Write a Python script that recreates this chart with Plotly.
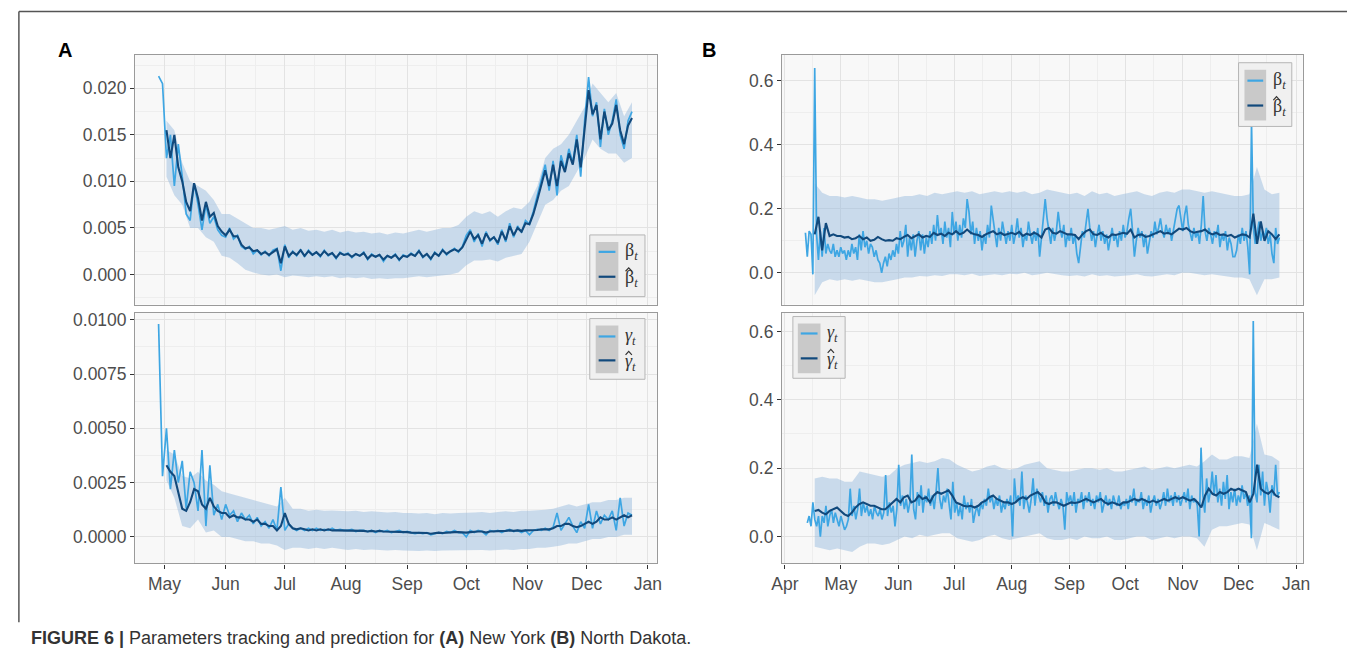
import pandas as pd
import plotly.graph_objects as go

# ---------------- (A) New York ----------------
# transmission rate beta_t (observed, every 2 days from Apr 28)
ny_beta_obs = [
    0.0213, 0.0205,
    0.0125, 0.0150, 0.0095, 0.0140, 0.0105, 0.0065, 0.0058, 0.0098, 0.0075, 0.0048, 0.0075, 0.0055, 0.0062, 0.0048, 0.0042,
    0.0040, 0.0050, 0.0038, 0.0042, 0.0030, 0.0027, 0.0030, 0.0022, 0.0026, 0.0021, 0.0025, 0.0020, 0.0026, 0.0028, 0.0004,
    0.0032, 0.0018, 0.0025, 0.0020, 0.0027, 0.0019, 0.0026, 0.0021, 0.0024, 0.0019, 0.0026, 0.0020, 0.0023, 0.0017, 0.0024, 0.0021,
    0.0023, 0.0018, 0.0022, 0.0020, 0.0024, 0.0016, 0.0022, 0.0019, 0.0021, 0.0014, 0.0020, 0.0018, 0.0022, 0.0015, 0.0021,
    0.0019, 0.0023, 0.0020, 0.0026, 0.0018, 0.0022, 0.0016, 0.0024, 0.0020, 0.0027, 0.0021, 0.0025, 0.0028, 0.0024, 0.0030,
    0.0042, 0.0048, 0.0035, 0.0044, 0.0030, 0.0046, 0.0036, 0.0040, 0.0032, 0.0048, 0.0035, 0.0055, 0.0040, 0.0052, 0.0045, 0.0058,
    0.0054, 0.0068, 0.0085, 0.0100, 0.0118, 0.0090, 0.0122, 0.0085, 0.0128, 0.0112, 0.0135, 0.0120, 0.0150, 0.0105, 0.0165,
    0.0212, 0.0170, 0.0185, 0.0137, 0.0178, 0.0150, 0.0165, 0.0188, 0.0150, 0.0135, 0.0165, 0.0175,
]
# one-step prediction beta_hat_t (every 2 days from May 2)
ny_beta_fit = [
    0.0155, 0.0125, 0.0150, 0.0115, 0.0100, 0.0078, 0.0068, 0.0098, 0.0082, 0.0058, 0.0078, 0.0062, 0.0066, 0.0052, 0.0046,
    0.0042, 0.0048, 0.0041, 0.0041, 0.0032, 0.0028, 0.0029, 0.0025, 0.0026, 0.0022, 0.0024, 0.0021, 0.0024, 0.0027, 0.0012,
    0.0030, 0.0020, 0.0024, 0.0021, 0.0026, 0.0020, 0.0025, 0.0021, 0.0024, 0.0020, 0.0025, 0.0021, 0.0023, 0.0018, 0.0023, 0.0021,
    0.0022, 0.0019, 0.0022, 0.0020, 0.0023, 0.0017, 0.0021, 0.0019, 0.0021, 0.0016, 0.0020, 0.0018, 0.0021, 0.0016, 0.0020,
    0.0019, 0.0022, 0.0020, 0.0025, 0.0019, 0.0022, 0.0017, 0.0023, 0.0020, 0.0026, 0.0022, 0.0025, 0.0027, 0.0025, 0.0029,
    0.0038, 0.0046, 0.0038, 0.0042, 0.0033, 0.0044, 0.0037, 0.0040, 0.0034, 0.0046, 0.0037, 0.0052, 0.0042, 0.0050, 0.0046, 0.0055,
    0.0054, 0.0065, 0.0080, 0.0095, 0.0112, 0.0095, 0.0118, 0.0095, 0.0122, 0.0110, 0.0130, 0.0118, 0.0145, 0.0115, 0.0160,
    0.0198, 0.0172, 0.0182, 0.0145, 0.0175, 0.0155, 0.0162, 0.0182, 0.0155, 0.0140, 0.0160, 0.0168,
]
# prediction band (every 4 days from May 2)
ny_beta_lo = [
    0.0105, 0.0085, 0.0075, 0.0050, 0.0050, 0.0040, 0.0035, 0.0020,
    0.0018, 0.0012, 0.0005, 0.0002, 0.0000, -0.0001, 0.0000,
    -0.0003, -0.0001, -0.0002, -0.0003, -0.0002, -0.0003, -0.0002, -0.0004,
    -0.0003, -0.0004, -0.0003, -0.0005, -0.0004, -0.0005, -0.0004, -0.0004,
    -0.0003, -0.0002, -0.0003, -0.0002, -0.0001, 0.0000, 0.0002,
    0.0010, 0.0015, 0.0015, 0.0016, 0.0014, 0.0018, 0.0020, 0.0022,
    0.0035, 0.0055, 0.0075, 0.0080, 0.0090, 0.0095, 0.0110, 0.0125,
    0.0145, 0.0135, 0.0130, 0.0130, 0.0120, 0.0125,
]
ny_beta_hi = [
    0.0165, 0.0155, 0.0120, 0.0100, 0.0095, 0.0090, 0.0080, 0.0065,
    0.0065, 0.0060, 0.0055, 0.0050, 0.0050, 0.0048, 0.0050,
    0.0052, 0.0048, 0.0050, 0.0047, 0.0048, 0.0046, 0.0048, 0.0045,
    0.0047, 0.0045, 0.0046, 0.0044, 0.0045, 0.0043, 0.0045, 0.0044,
    0.0046, 0.0048, 0.0046, 0.0048, 0.0050, 0.0050, 0.0053,
    0.0062, 0.0068, 0.0065, 0.0068, 0.0062, 0.0068, 0.0072, 0.0070,
    0.0078, 0.0095, 0.0125, 0.0135, 0.0140, 0.0150, 0.0165, 0.0180,
    0.0205, 0.0195, 0.0185, 0.0195, 0.0170, 0.0185,
]

# removal rate gamma_t (observed, every 2 days from Apr 28)
ny_gamma_obs = [
    0.0098, 0.0028,
    0.0050, 0.0022, 0.0040, 0.0025, 0.0035, 0.0013, 0.0030, 0.0025, 0.0012, 0.0040, 0.0005, 0.0033, 0.0010, 0.0015, 0.0008,
    0.0015, 0.0010, 0.0012, 0.0007, 0.0011, 0.0008, 0.0010, 0.0006, 0.0009, 0.0005, 0.0007, 0.0004, 0.0008, 0.0003, 0.0023,
    0.0003, 0.0006, 0.0004, 0.0003, 0.0004, 0.0003, 0.0004, 0.0003, 0.0004, 0.0003, 0.00035, 0.0003, 0.0004, 0.0003, 0.00035, 0.0003,
    0.0003, 0.00035, 0.00025, 0.0003, 0.0003, 0.00025, 0.0003, 0.0002, 0.0003, 0.00025, 0.0003, 0.0002, 0.00025, 0.0003, 0.0002,
    0.00025, 0.0002, 0.00015, 0.0002, 0.00015, 0.0002, 0.0001, 0.00015, 0.0002, 0.00015, 0.00025, 0.0002, 0.0003, 0.0002, 0.0002,
    0.0000, 0.0003, 0.0002, 0.0003, 0.00025, 0.0001, 0.0003, 0.00025, 0.0003, 0.0002, 0.0003, 0.00035, 0.00025, 0.0003, 0.0002, 0.0003,
    0.0001, 0.0003, 0.00035, 0.0003, 0.0004, 0.0003, 0.00045, 0.0011, 0.0003, 0.0006, 0.0009, 0.0005, 0.0002, 0.0007, 0.0004,
    0.0015, 0.0004, 0.0012, 0.0006, 0.0010, 0.0008, 0.0012, 0.0003, 0.0018, 0.0005, 0.0011, 0.0010,
]
ny_gamma_fit = [
    0.0033, 0.0030, 0.0028, 0.0020, 0.0013, 0.0012, 0.0016, 0.0022, 0.0021, 0.0015, 0.0013, 0.0018, 0.0014, 0.0012, 0.0011,
    0.0011, 0.0009, 0.0010, 0.0009, 0.0009, 0.0008, 0.0008, 0.0007, 0.0008, 0.0006, 0.0006, 0.0005, 0.0005, 0.0003, 0.0005,
    0.0011, 0.0006, 0.0004, 0.00035, 0.0004, 0.00035, 0.0003, 0.00035, 0.0003, 0.00035, 0.0003, 0.00035, 0.0003, 0.0003, 0.0003, 0.0003,
    0.0003, 0.0003, 0.00028, 0.0003, 0.00028, 0.00025, 0.00028, 0.00025, 0.00028, 0.00025, 0.00025, 0.00022, 0.00025, 0.00025, 0.00022,
    0.00022, 0.0002, 0.0002, 0.00018, 0.0002, 0.00018, 0.00015, 0.00018, 0.0002, 0.00018, 0.0002, 0.0002, 0.00022, 0.00022, 0.0002,
    0.0002, 0.00022, 0.00025, 0.00025, 0.00025, 0.0002, 0.00025, 0.00025, 0.00028, 0.00025, 0.00028, 0.0003, 0.00028, 0.0003, 0.00028, 0.0003,
    0.0003, 0.0003, 0.00032, 0.00035, 0.00035, 0.00035, 0.0004, 0.0005, 0.0005, 0.0006, 0.0006, 0.0005, 0.00045, 0.0005, 0.0006,
    0.0007, 0.0006, 0.0007, 0.0009, 0.0008, 0.0008, 0.0009, 0.0008, 0.0009, 0.0010, 0.0009, 0.0010,
]
ny_gamma_lo = [
    0.0026, 0.0018, 0.0005, 0.0004, 0.0008, 0.0002, 0.0003, 0.0000,
    0.0000, -0.0001, -0.0002, -0.0002, -0.0003, -0.0003, -0.0004,
    -0.0006, -0.0005, -0.0005, -0.00055, -0.0005, -0.00055, -0.0005, -0.00055,
    -0.0006, -0.00055, -0.0006, -0.00058, -0.0006, -0.00062, -0.0006, -0.00062,
    -0.00062, -0.00065, -0.00062, -0.00065, -0.00062, -0.0006, -0.00062,
    -0.00062, -0.0006, -0.0006, -0.00062, -0.0006, -0.00058, -0.0006, -0.00055,
    -0.00055, -0.0005, -0.0005, -0.00045, -0.0004, -0.0003, -0.0003, -0.0002,
    -0.0001, -0.0001, 0.0000, 0.0000, 0.0001, 0.0001,
]
ny_gamma_hi = [
    0.0040, 0.0038, 0.0028, 0.0027, 0.0030, 0.0026, 0.0024, 0.0021,
    0.0020, 0.0019, 0.0018, 0.0017, 0.0016, 0.0015, 0.0014,
    0.0018, 0.0013, 0.0013, 0.0012, 0.00125, 0.0012, 0.00122, 0.0012,
    0.00118, 0.0012, 0.00115, 0.00118, 0.00115, 0.00112, 0.00115, 0.0011,
    0.0011, 0.00108, 0.0011, 0.00105, 0.0011, 0.00108, 0.0011,
    0.0011, 0.00112, 0.00115, 0.0011, 0.00115, 0.00118, 0.00115, 0.0012,
    0.0012, 0.00122, 0.00125, 0.0013, 0.0014, 0.0015, 0.0014, 0.0015,
    0.0016, 0.0016, 0.0017, 0.0017, 0.0018, 0.0018,
]

# ---------------- (B) North Dakota ----------------
# beta_t observed, daily from Apr 12
nd_beta_obs = [
    0.125, 0.05, 0.13, 0.12, -0.005, 0.64, 0.12, 0.04, 0.13, 0.05, 0.14, 0.06, 0.09, 0.07, 0.06, 0.09, 0.05, 0.07, 0.05,
    0.08, 0.06, 0.07, 0.04, 0.07, 0.05, 0.09, 0.06, 0.08, 0.04, 0.12, 0.07, 0.13, 0.08, 0.10, 0.06, 0.09, 0.08, 0.05, 0.07,
    0.04, 0.03, 0.00, 0.03, 0.05, 0.02, 0.06, 0.04, 0.07, 0.05, 0.09,
    0.06, 0.13, 0.08, 0.10, 0.15, 0.05, 0.11, 0.07, 0.12, 0.05, 0.10, 0.13, 0.07, 0.12, 0.06, 0.11, 0.08, 0.13, 0.09, 0.15,
    0.10, 0.18, 0.12, 0.14, 0.09, 0.16, 0.11, 0.14, 0.08, 0.19,
    0.12, 0.16, 0.10, 0.15, 0.11, 0.17, 0.14, 0.23, 0.19, 0.12, 0.16, 0.09, 0.14, 0.10, 0.13, 0.07, 0.12, 0.09, 0.15, 0.11,
    0.21, 0.16, 0.12, 0.08, 0.14, 0.10, 0.16, 0.12, 0.09, 0.13, 0.10,
    0.15, 0.09, 0.12, 0.17, 0.11, 0.14, 0.08, 0.12, 0.10, 0.16, 0.12, 0.09, 0.13, 0.10, 0.14, 0.05, 0.11, 0.16, 0.23, 0.17,
    0.12, 0.09, 0.14, 0.10, 0.13, 0.19, 0.14, 0.11, 0.15, 0.08, 0.12,
    0.10, 0.14, 0.09, 0.12, 0.06, 0.03, 0.09, 0.13, 0.11, 0.16, 0.20, 0.14, 0.10, 0.13, 0.08, 0.12, 0.15, 0.10, 0.13, 0.09,
    0.12, 0.07, 0.11, 0.14, 0.10, 0.12, 0.08, 0.13, 0.10, 0.15,
    0.11, 0.13, 0.17, 0.20, 0.13, 0.05, 0.10, 0.14, 0.11, 0.13, 0.08, 0.12, 0.06, 0.10, 0.13, 0.11, 0.16, 0.12, 0.14, 0.17,
    0.13, 0.11, 0.15, 0.12, 0.14, 0.10, 0.13, 0.16, 0.20, 0.21, 0.16,
    0.13, 0.18, 0.21, 0.15, 0.12, 0.10, 0.14, 0.11, 0.13, 0.09, 0.15, 0.24, 0.13, 0.10, 0.14, 0.12, 0.09, 0.13, 0.11, 0.15,
    0.08, 0.12, 0.10, 0.13, 0.07, 0.11, 0.09, 0.05, 0.05, 0.07,
    0.12, 0.09, 0.14, 0.10, 0.13, 0.08, -0.005, 0.47, 0.14, 0.09, 0.12, 0.16, 0.10, 0.13, 0.11, 0.14, 0.09, 0.12, 0.06,
    0.03, 0.14, 0.09, 0.11,
]
# beta_hat_t, every 2 days from Apr 17
nd_beta_fit = [
    0.12, 0.175, 0.07, 0.155, 0.115, 0.12, 0.115,
    0.115, 0.11, 0.112, 0.105, 0.108, 0.115, 0.105, 0.110, 0.100, 0.103, 0.112, 0.105, 0.100, 0.102, 0.100, 0.108,
    0.105, 0.112, 0.118, 0.108, 0.115, 0.120, 0.110, 0.115, 0.112, 0.125, 0.118, 0.122, 0.115, 0.125, 0.12,
    0.13, 0.12, 0.125, 0.135, 0.125, 0.12, 0.118, 0.112, 0.12, 0.125, 0.13, 0.12, 0.125, 0.118, 0.122,
    0.125, 0.12, 0.128, 0.115, 0.122, 0.118, 0.125, 0.12, 0.11, 0.135, 0.14, 0.125, 0.122, 0.13, 0.125, 0.12,
    0.12, 0.118, 0.105, 0.12, 0.13, 0.135, 0.12, 0.118, 0.125, 0.115, 0.11, 0.12, 0.118, 0.122, 0.125,
    0.122, 0.135, 0.11, 0.118, 0.12, 0.112, 0.115, 0.12, 0.125, 0.13, 0.122, 0.125, 0.12, 0.13, 0.138,
    0.135, 0.14, 0.13, 0.125, 0.128, 0.13, 0.135, 0.125, 0.12, 0.125, 0.118, 0.12, 0.115, 0.118, 0.11,
    0.115, 0.12, 0.118, 0.11, 0.185, 0.09, 0.16, 0.10, 0.13, 0.12, 0.105, 0.12,
]
# band, every 4 days from Apr 17
nd_beta_lo = [
    -0.07, -0.03, -0.02, -0.025,
    -0.02, -0.025, -0.02, -0.025, -0.03, -0.03, -0.025, -0.02,
    -0.015, -0.015, -0.01, -0.012, -0.008, -0.01, -0.005,
    -0.005, -0.008, -0.003, -0.01, -0.008, -0.005, -0.008, -0.003,
    -0.005, 0.0, -0.008, -0.005, 0.0, -0.003, -0.008, -0.01,
    -0.008, -0.012, -0.005, -0.01, -0.008, -0.012, -0.01,
    -0.008, -0.005, -0.01, -0.012, -0.008, -0.005, -0.008, 0.0,
    0.0, -0.005, -0.008, -0.005, -0.01, -0.012, -0.015,
    -0.015, -0.02, -0.07, -0.02, -0.02, -0.015,
]
nd_beta_hi = [
    0.28, 0.25, 0.24, 0.24,
    0.235, 0.24, 0.235, 0.23, 0.23, 0.225, 0.23, 0.235,
    0.24, 0.24, 0.245, 0.24, 0.25, 0.245, 0.25,
    0.255, 0.25, 0.255, 0.245, 0.25, 0.255, 0.25, 0.255,
    0.25, 0.255, 0.245, 0.25, 0.26, 0.255, 0.25, 0.245,
    0.25, 0.24, 0.255, 0.245, 0.25, 0.24, 0.245,
    0.25, 0.255, 0.245, 0.24, 0.25, 0.255, 0.25, 0.26,
    0.26, 0.255, 0.25, 0.255, 0.25, 0.245, 0.24,
    0.24, 0.245, 0.33, 0.26, 0.245, 0.25,
]

# gamma_t observed, daily from Apr 13
nd_gamma_obs = [
    0.04, 0.06, 0.03, 0.10, 0.05, 0.03, 0.06, 0.00, 0.06, 0.04, 0.09, 0.03, 0.06, 0.08, 0.04, 0.07, 0.05, 0.03,
    0.06, 0.04, 0.02, 0.03, 0.05, 0.14, 0.06, 0.09, 0.05, 0.08, 0.14, 0.06, 0.10, 0.07, 0.09, 0.06, 0.08, 0.05,
    0.09, 0.07, 0.06, 0.08, 0.05, 0.07, 0.18, 0.06, 0.10, 0.07, 0.09, 0.03, 0.08,
    0.21, 0.09, 0.12, 0.08, 0.11, 0.07, 0.10, 0.24, 0.08, 0.05, 0.13, 0.09, 0.15, 0.07, 0.12, 0.10, 0.14, 0.09,
    0.12, 0.08, 0.13, 0.20, 0.11, 0.08, 0.12, 0.10, 0.14, 0.09, 0.05, 0.16,
    0.07, 0.10, 0.06, 0.09, 0.05, 0.12, 0.08, 0.10, 0.07, 0.11, 0.04, 0.07, 0.09, 0.06, 0.10, 0.08, 0.11, 0.09,
    0.14, 0.10, 0.12, 0.08, 0.11, 0.09, 0.12, 0.07, 0.10, 0.08, 0.11, 0.09, 0.12,
    0.00, 0.17, 0.10, 0.12, 0.09, 0.19, 0.08, 0.12, 0.10, 0.07, 0.11, 0.17, 0.09, 0.14, 0.12, 0.10, 0.13, 0.09,
    0.12, 0.07, 0.11, 0.12, 0.09, 0.13, 0.10, 0.08, 0.11, 0.09, 0.02, 0.13, 0.10,
    0.12, 0.09, 0.13, 0.07, 0.11, 0.10, 0.13, 0.08, 0.12, 0.10, 0.13, 0.09, 0.11, 0.08, 0.12, 0.10, 0.13, 0.07,
    0.10, 0.12, 0.09, 0.11, 0.08, 0.12, 0.10, 0.09, 0.12, 0.08, 0.10, 0.09,
    0.11, 0.08, 0.12, 0.10, 0.14, 0.09, 0.11, 0.10, 0.13, 0.08, 0.11, 0.09, 0.12, 0.07, 0.10, 0.12, 0.09, 0.11,
    0.08, 0.10, 0.13, 0.09, 0.14, 0.10, 0.12, 0.09, 0.13, 0.10, 0.12, 0.09, 0.11,
    0.13, 0.10, 0.14, 0.08, 0.12, 0.10, 0.11, 0.09, 0.00, 0.26, 0.12, 0.07, 0.17, 0.10, 0.13, 0.19, 0.12, 0.18,
    0.10, 0.14, 0.09, 0.16, 0.11, 0.18, 0.08, 0.13, 0.10, 0.14, 0.09, 0.12,
    0.10, 0.15, 0.11, 0.13, 0.09, 0.12, -0.005, 0.63, 0.13, 0.10, 0.21, 0.12, 0.19, 0.09, 0.16, 0.13, 0.07, 0.15,
    0.12, 0.21, 0.12, 0.13,
]
# gamma_hat_t, every 2 days from Apr 17
nd_gamma_fit = [
    0.075, 0.078, 0.07, 0.065, 0.075, 0.08, 0.085,
    0.075, 0.065, 0.06, 0.07, 0.085, 0.095, 0.10, 0.095, 0.09, 0.09, 0.085, 0.08, 0.08, 0.09, 0.10, 0.11,
    0.10, 0.115, 0.12, 0.10, 0.105, 0.12, 0.11, 0.115, 0.10, 0.12, 0.13, 0.125, 0.13, 0.135, 0.12,
    0.10, 0.095, 0.09, 0.088, 0.09, 0.085, 0.09, 0.10, 0.105, 0.115, 0.12, 0.11, 0.105, 0.10, 0.10,
    0.095, 0.10, 0.11, 0.115, 0.11, 0.12, 0.125, 0.13, 0.12, 0.10, 0.095, 0.10, 0.10, 0.095, 0.09, 0.095,
    0.10, 0.098, 0.10, 0.105, 0.11, 0.105, 0.10, 0.105, 0.11, 0.10, 0.095, 0.10, 0.095, 0.092, 0.10,
    0.10, 0.105, 0.11, 0.105, 0.11, 0.105, 0.10, 0.105, 0.10, 0.105, 0.11, 0.105, 0.11, 0.115, 0.11,
    0.115, 0.11, 0.105, 0.11, 0.10, 0.085, 0.12, 0.14, 0.125, 0.12, 0.13, 0.125, 0.13, 0.14, 0.135,
    0.14, 0.135, 0.13, 0.10, 0.125, 0.21, 0.14, 0.13, 0.125, 0.135, 0.12, 0.115,
]
nd_gamma_lo = [
    -0.03, -0.035, -0.04, -0.035,
    -0.04, -0.045, -0.03, -0.02, -0.02, -0.025, -0.02, -0.01,
    0.0, -0.005, 0.005, 0.0, 0.005, 0.01, 0.01,
    -0.005, -0.01, -0.015, -0.01, 0.0, 0.005, -0.005, -0.01,
    -0.005, 0.0, 0.005, 0.01, -0.005, -0.01, -0.01, -0.005,
    -0.01, 0.0, -0.005, -0.005, 0.0, -0.01, -0.01,
    -0.005, 0.0, 0.0, -0.01, -0.005, 0.0, -0.005, 0.0,
    0.0, -0.005, -0.03, 0.02, 0.03, 0.03, 0.035,
    0.04, 0.035, -0.04, 0.04, 0.03, 0.02,
]
nd_gamma_hi = [
    0.17, 0.175, 0.17, 0.17,
    0.16, 0.16, 0.19, 0.185, 0.18, 0.175, 0.18, 0.20,
    0.21, 0.215, 0.22, 0.215, 0.22, 0.23, 0.225,
    0.21, 0.20, 0.19, 0.195, 0.205, 0.21, 0.20, 0.195,
    0.20, 0.21, 0.215, 0.22, 0.20, 0.195, 0.19, 0.19,
    0.195, 0.20, 0.20, 0.195, 0.20, 0.19, 0.19,
    0.195, 0.20, 0.205, 0.195, 0.20, 0.205, 0.20, 0.205,
    0.21, 0.205, 0.22, 0.24, 0.225, 0.225, 0.235,
    0.235, 0.23, 0.33, 0.24, 0.235, 0.22,
]

# date spans of each series
NY_OBS_SPAN = ("2020-04-28", "2020-12-24")
NY_FIT_SPAN = ("2020-05-02", "2020-12-24")
ND_BETA_OBS_SPAN = ("2020-04-12", "2020-12-23")
ND_GAMMA_OBS_SPAN = ("2020-04-13", "2020-12-23")
ND_FIT_SPAN = ("2020-04-17", "2020-12-23")

LIGHT = "#3ea6e3"
DARK = "#11497c"
BAND = "rgba(150,186,222,0.48)"

W, H = 1355, 658


def dates(span, n):
    return pd.date_range(span[0], span[1], periods=n)


def px(x):
    return x / W


def py(y):
    return 1 - y / H


fig = go.Figure()


def add_panel(k, obs, obs_span, fit, fit_span, lo, hi):
    xa, ya = ("x", "y") if k == 1 else (f"x{k}", f"y{k}")
    band_x = list(dates(fit_span, len(hi))) + list(dates(fit_span, len(lo)))[::-1]
    band_y = list(hi) + list(lo)[::-1]
    fig.add_trace(go.Scatter(x=band_x, y=band_y, fill="toself", fillcolor=BAND,
                             line=dict(width=0), mode="lines", hoverinfo="skip",
                             showlegend=False, xaxis=xa, yaxis=ya))
    fig.add_trace(go.Scatter(x=dates(obs_span, len(obs)), y=obs, mode="lines",
                             line=dict(color=LIGHT, width=1.7), showlegend=False,
                             xaxis=xa, yaxis=ya))
    fig.add_trace(go.Scatter(x=dates(fit_span, len(fit)), y=fit, mode="lines",
                             line=dict(color=DARK, width=2.1), showlegend=False,
                             xaxis=xa, yaxis=ya))


add_panel(1, ny_beta_obs, NY_OBS_SPAN, ny_beta_fit, NY_FIT_SPAN, ny_beta_lo, ny_beta_hi)
add_panel(2, ny_gamma_obs, NY_OBS_SPAN, ny_gamma_fit, NY_FIT_SPAN, ny_gamma_lo, ny_gamma_hi)
add_panel(3, nd_beta_obs, ND_BETA_OBS_SPAN, nd_beta_fit, ND_FIT_SPAN, nd_beta_lo, nd_beta_hi)
add_panel(4, nd_gamma_obs, ND_GAMMA_OBS_SPAN, nd_gamma_fit, ND_FIT_SPAN, nd_gamma_lo, nd_gamma_hi)

TICK_FONT = dict(family="Liberation Sans, Arial, sans-serif", size=17.5, color="#4d4d4d")
GRID = "#e3e3e3"
MINOR_GRID = "#eeeeee"
FRAME = "#9a9a9a"


def xaxis(domain, rng, anchor, labels):
    return dict(domain=domain, range=rng, anchor=anchor, type="date",
                dtick="M1", tick0="2020-01-01", tickformat="%b",
                showticklabels=labels, ticks="outside" if labels else "",
                ticklen=4, tickcolor="#333333", tickfont=TICK_FONT,
                showgrid=True, gridcolor=GRID, gridwidth=1,
                minor=dict(dtick="M1", tick0="2020-01-16", showgrid=True,
                           gridcolor=MINOR_GRID, gridwidth=0.6, ticks=""),
                showline=True, linecolor=FRAME, linewidth=1.3, mirror=True,
                zeroline=False)


def yaxis(domain, rng, anchor, dtick, fmt):
    return dict(domain=domain, range=rng, anchor=anchor, dtick=dtick, tick0=0,
                tickformat=fmt, ticks="outside", ticklen=4, tickcolor="#333333",
                tickfont=TICK_FONT, showgrid=True, gridcolor=GRID, gridwidth=1,
                minor=dict(dtick=dtick / 2, tick0=0, showgrid=True,
                           gridcolor=MINOR_GRID, gridwidth=0.6, ticks=""),
                showline=True, linecolor=FRAME, linewidth=1.3, mirror=True,
                zeroline=False)


XA = [px(126), px(655)]
XB = [px(782), px(1310)]
Y_TOP = [py(303), py(52)]
Y_BOT = [py(563), py(311)]
RANGE_A = ["2020-04-16 04:00", "2021-01-05 14:00"]
RANGE_B = ["2020-03-30 10:00", "2021-01-04 12:00"]

fig.update_layout(
    width=W, height=H, margin=dict(l=0, r=0, t=0, b=0),
    paper_bgcolor="white", plot_bgcolor="#f8f8f8", showlegend=False,
    xaxis=xaxis(XA, RANGE_A, "y", False),
    yaxis=yaxis(Y_TOP, [-0.00324, 0.0236], "x", 0.005, ".3f"),
    xaxis2=xaxis(XA, RANGE_A, "y2", True),
    yaxis2=yaxis(Y_BOT, [-0.00122, 0.01033], "x2", 0.0025, ".4f"),
    xaxis3=xaxis(XB, RANGE_B, "y3", False),
    yaxis3=yaxis(Y_TOP, [-0.0995, 0.681], "x3", 0.2, ".1f"),
    xaxis4=xaxis(XB, RANGE_B, "y4", True),
    yaxis4=yaxis(Y_BOT, [-0.0786, 0.655], "x4", 0.2, ".1f"),
)

shapes = []
annotations = []

# outer figure frame (top and left rules)
shapes.append(dict(type="line", xref="paper", yref="paper", x0=px(8), x1=1,
                   y0=py(8.5), y1=py(8.5), line=dict(color="#555555", width=1.5)))
shapes.append(dict(type="line", xref="paper", yref="paper", x0=px(8), x1=px(8),
                   y0=py(8.5), y1=py(622), line=dict(color="#555555", width=1.5)))


def legend_box(x0, y0, x1, y1, kx0, kx1, ky0, ky1, y_light, y_dark, sym, hat_dx):
    shapes.append(dict(type="rect", xref="paper", yref="paper", x0=px(x0), x1=px(x1),
                       y0=py(y1), y1=py(y0), fillcolor="#f0f0f0",
                       line=dict(color="#b5b5b5", width=1)))
    shapes.append(dict(type="rect", xref="paper", yref="paper", x0=px(kx0), x1=px(kx1),
                       y0=py(ky1), y1=py(ky0), fillcolor="#c9c9c9", line=dict(width=0)))
    for yk, col in ((y_light, LIGHT), (y_dark, DARK)):
        shapes.append(dict(type="line", xref="paper", yref="paper",
                           x0=px(kx0 + 3), x1=px(kx1 - 3), y0=py(yk), y1=py(yk),
                           line=dict(color=col, width=2.2)))
    lab_font = dict(family="Liberation Serif, DejaVu Serif, serif", size=18, color="#333333")
    lab = f"{sym}<sub><i>t</i></sub>"
    annotations.append(dict(xref="paper", yref="paper", x=px(kx1 + 5), y=py(y_light),
                            text=lab, showarrow=False, xanchor="left", yanchor="middle",
                            font=lab_font))
    annotations.append(dict(xref="paper", yref="paper", x=px(kx1 + 5), y=py(y_dark + 2),
                            text=lab, showarrow=False, xanchor="left", yanchor="middle",
                            font=lab_font))
    # circumflex accent of the estimate symbol
    hx = kx1 + 5 + hat_dx
    hy = y_dark - 9
    shapes.append(dict(type="path", xref="paper", yref="paper",
                       path=(f"M {px(hx - 3.2)},{py(hy + 3.5)} L {px(hx)},{py(hy)} "
                             f"L {px(hx + 3.2)},{py(hy + 3.5)}"),
                       line=dict(color="#333333", width=1.2)))


legend_box(587, 233, 643, 295, 593, 616, 240, 289, 250, 275, "β", 5.5)
legend_box(587, 317, 643, 378, 593, 616, 324, 372, 335, 359, "<i>γ</i>", 5.5)
legend_box(1245, 60, 1299, 124, 1251, 1273, 67, 118, 78, 103, "β", 5.5)
legend_box(793, 315, 846, 377, 798, 821, 322, 372, 332, 357, "<i>γ</i>", 5.5)

# panel letters
for x, letter in ((55, "A"), (708, "B")):
    annotations.append(dict(xref="paper", yref="paper", x=px(x), y=py(47), text=f"<b>{letter}</b>",
                            showarrow=False, xanchor="center", yanchor="middle",
                            font=dict(family="Liberation Sans, Arial, sans-serif", size=20, color="#000000")))

# caption
annotations.append(dict(
    xref="paper", yref="paper", x=px(18), y=py(638), xanchor="left", yanchor="middle", showarrow=False,
    text=("<b>FIGURE 6 |</b> Parameters tracking and prediction for <b>(A)</b> New York "
          "<b>(B)</b> North Dakota."),
    font=dict(family="Liberation Sans, Arial, sans-serif", size=18, color="#333333")))

fig.update_layout(shapes=shapes, annotations=annotations)

fig.write_html("out.html")
